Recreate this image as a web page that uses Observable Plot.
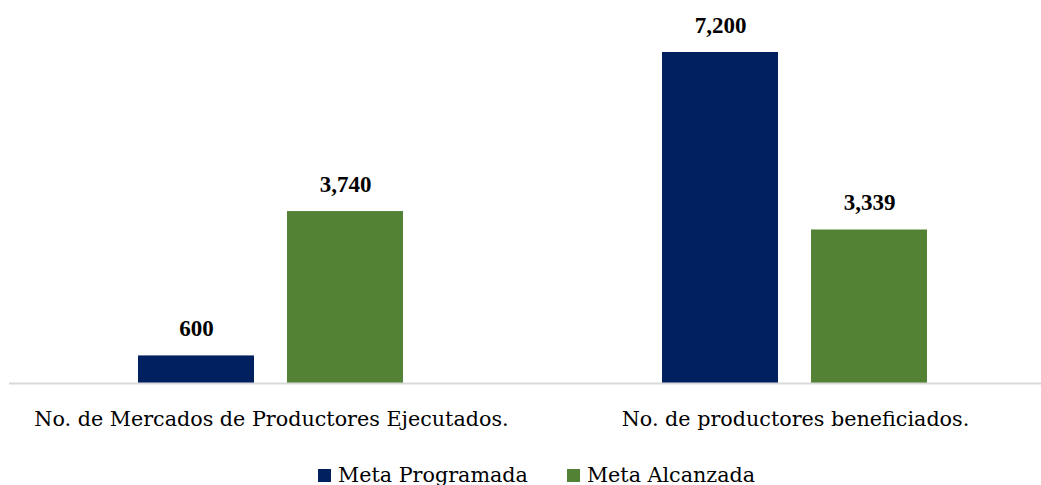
<!DOCTYPE html>
<html>
<head>
<meta charset="utf-8">
<script src="https://cdn.jsdelivr.net/npm/d3@7"></script>
<script src="https://cdn.jsdelivr.net/npm/@observablehq/plot@0.6"></script>
<style>
  html, body { margin: 0; padding: 0; background: #fff; overflow: hidden; }
  #wrap { width: 1041px; overflow: hidden; }
  #chart svg { max-width: none !important; display: block; }
  #legend { display: flex; gap: 39px; font-family: "DejaVu Serif", serif; font-size: 20.7px; color: #000; margin-left: 318px; margin-top: 18px; }
  #legend span.item { display: flex; align-items: center; gap: 7px; }
  #legend span.sw { width: 13px; height: 13px; display: inline-block; }
</style>
</head>
<body>
<div id="wrap"><div id="chart"></div></div>
<div id="legend"></div>
<script>
const categories = ["No. de Mercados de Productores Ejecutados.", "No. de productores beneficiados."];
const series = ["Meta Programada", "Meta Alcanzada"];
const programada = [600, 7200];
const alcanzada = [3740, 3339];
const colors = ["#002060", "#548235"];

const data = [];
categories.forEach((c, i) => {
  data.push({cat: c, serie: series[0], value: programada[i]});
  data.push({cat: c, serie: series[1], value: alcanzada[i]});
});

const chart = Plot.plot({
  width: 1057,
  height: 445,
  marginLeft: 9,
  marginRight: 0,
  marginTop: 0,
  marginBottom: 62,
  style: {fontFamily: "'DejaVu Serif', serif", fontSize: "20.7px", color: "#000", background: "#fff", maxWidth: "none"},
  fx: {domain: categories, padding: 0, label: null, tickSize: 0, tickPadding: 28},
  x: {domain: series, paddingInner: 0.22, paddingOuter: 0.857, axis: null},
  y: {domain: [0, 7200], range: [383, 52], axis: null},
  color: {domain: series, range: colors},
  marks: [
    Plot.barY(data, {fx: "cat", x: "serie", y: "value", fill: "serie"}),
    Plot.ruleY([0], {stroke: "#d9d9d9", strokeWidth: 2}),
    Plot.text(data, {fx: "cat", x: "serie", y: "value", text: d => d3.format(",")(d.value), lineAnchor: "bottom", dy: -20, fontWeight: "bold", fontSize: 23, fontFamily: "'Liberation Serif', serif", fill: "#000"})
  ]
});
document.getElementById("chart").appendChild(chart);

const legend = document.getElementById("legend");
series.forEach((s, i) => {
  const item = document.createElement("span");
  item.className = "item";
  const sw = document.createElement("span");
  sw.className = "sw";
  sw.style.background = colors[i];
  item.appendChild(sw);
  item.appendChild(document.createTextNode(s));
  legend.appendChild(item);
});
</script>
</body>
</html>
